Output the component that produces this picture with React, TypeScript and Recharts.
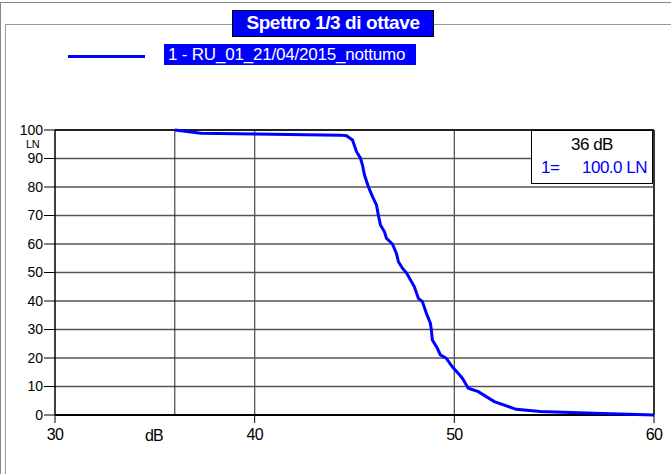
import React from "react";
import { LineChart, Line, XAxis, YAxis, CartesianGrid, ReferenceLine } from "recharts";

// cumulative level distribution: dB -> LN (%)
const levelDb = [
  36.0, 37.3, 40.0, 44.3, 44.6, 44.9, 45.1, 45.3, 45.4, 45.5, 45.7, 45.9, 46.1, 46.2,
  46.3, 46.5, 46.6, 46.9, 47.1, 47.2, 47.4, 47.6, 48.0, 48.2, 48.4, 48.6, 48.8, 48.85,
  48.9, 49.15, 49.3, 49.6, 49.9, 50.2, 50.4, 50.7, 51.2, 52.0, 53.1, 54.3, 57.4, 60.0,
];
const lnValues = [
  100, 98.9, 98.6, 98.2, 98.0, 96.5, 92.4, 90.1, 87.7, 84.2, 80.0, 76.6, 73.7, 69.9,
  66.7, 64.3, 62.0, 60.0, 56.7, 53.8, 51.5, 49.9, 45.0, 40.9, 39.8, 35.7, 32.2, 29.8,
  26.3, 23.4, 21.1, 19.9, 16.9, 14.6, 12.9, 9.4, 8.2, 4.7, 2.0, 1.2, 0.5, 0,
];
const xTicks = [30, 40, 50, 60];
const yTicks = [0, 10, 20, 30, 40, 50, 60, 70, 80, 90, 100];
const gridX = [40, 50];
const cursorDb = 36;
const cursorLn = "100.0";

const data = levelDb.map((db, i) => ({ db, ln: lnValues[i] }));

const font = "'Liberation Sans', Arial, sans-serif";
const xTickStyle = { fill: "#000", fontSize: 16, fontFamily: font, letterSpacing: -0.7 };
const yTickStyle = { fill: "#000", fontSize: 14, fontFamily: font };

export default function App() {
  return (
    <div style={{ position: "absolute", left: 0, top: 0, width: 671, height: 474, background: "#fff", fontFamily: font, overflow: "hidden" }}>
      {/* frames */}
      <div style={{ position: "absolute", left: 0, top: 2, width: 671, height: 500, borderTop: "1px solid #888", borderLeft: "1px solid #888" }} />
      <div style={{ position: "absolute", left: 5, top: 24, width: 700, height: 500, borderTop: "1px solid #999", borderLeft: "1px solid #999" }} />

      <LineChart
        width={671}
        height={474}
        data={data}
        margin={{ top: 130, right: 17, left: 0, bottom: 0 }}
        style={{ position: "absolute", left: 0, top: 0 }}
      >
        <CartesianGrid vertical={false} stroke="#555" strokeWidth={1.3} />
        <XAxis
          dataKey="db"
          type="number"
          domain={[30, 60]}
          ticks={xTicks}
          height={59}
          tickSize={8}
          tickMargin={6}
          axisLine={false}
          tickLine={{ stroke: "#000" }}
          tick={xTickStyle}
        />
        <YAxis
          type="number"
          domain={[0, 100]}
          ticks={yTicks}
          width={55}
          tickSize={11}
          tickMargin={1}
          axisLine={{ stroke: "#000", strokeWidth: 1.5 }}
          tickLine={{ stroke: "#000" }}
          tick={yTickStyle}
        />
        {gridX.map((v) => (
          <ReferenceLine key={v} x={v} stroke="#555" strokeWidth={1.3} />
        ))}
        <ReferenceLine x={cursorDb} stroke="#222" strokeWidth={1} />
        <ReferenceLine x={60} stroke="#333" strokeWidth={2} />
        <ReferenceLine y={100} stroke="#000" strokeWidth={1.3} />
        <ReferenceLine y={0} stroke="#000" strokeWidth={2} />
        <Line
          dataKey="ln"
          type="linear"
          stroke="#0000ff"
          strokeWidth={3}
          dot={false}
          isAnimationActive={false}
        />
      </LineChart>

      {/* title */}
      <div style={{ position: "absolute", left: 232, top: 10, width: 200, height: 25, background: "#0000ff", border: "1px solid #000", color: "#fff", fontWeight: "bold", fontSize: 19, lineHeight: "23px", textAlign: "center", letterSpacing: -0.4 }}>
        Spettro 1/3 di ottave
      </div>

      {/* legend */}
      <div style={{ position: "absolute", left: 68, top: 55, width: 77, height: 3, background: "#0000ff" }} />
      <div style={{ position: "absolute", left: 164, top: 44, width: 252, height: 21, background: "#0000ff", color: "#fff", fontSize: 17, lineHeight: "21px", paddingLeft: 4, letterSpacing: -0.2, boxSizing: "border-box", whiteSpace: "nowrap" }}>
        1 - RU_01_21/04/2015_nottumo
      </div>

      {/* axis unit labels */}
      <div style={{ position: "absolute", left: 26, top: 139, fontSize: 11, lineHeight: "11px", letterSpacing: -0.3 }}>LN</div>
      <div style={{ position: "absolute", left: 145, top: 428, fontSize: 16, lineHeight: "16px", letterSpacing: -0.8 }}>dB</div>

      {/* cursor box */}
      <div style={{ position: "absolute", left: 531, top: 130, width: 122, height: 54, background: "#fff", border: "1px solid #000", boxSizing: "border-box", fontSize: 17, letterSpacing: -0.5 }}>
        <div style={{ position: "absolute", left: 0, top: 4, width: "100%", textAlign: "center", color: "#000" }}>{cursorDb} dB</div>
        <div style={{ position: "absolute", left: 9, top: 27, color: "#0000ff" }}>1=</div>
        <div style={{ position: "absolute", right: 5, top: 27, color: "#0000ff" }}>{cursorLn} LN</div>
      </div>
    </div>
  );
}
